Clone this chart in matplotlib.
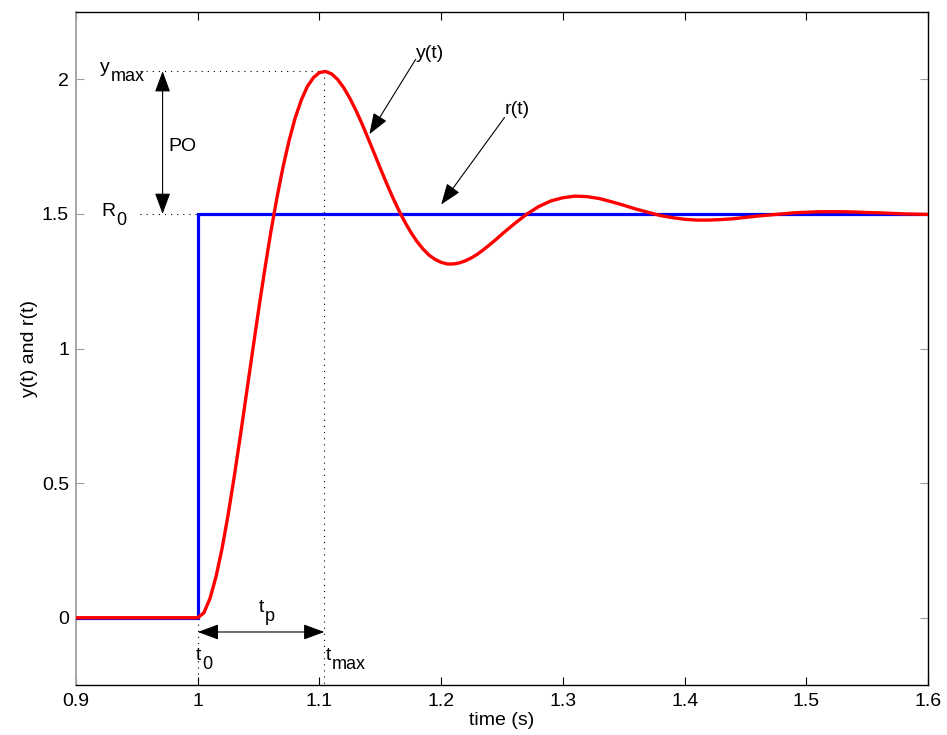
import matplotlib
matplotlib.use("Agg")
import matplotlib.pyplot as plt
from matplotlib.patches import ArrowStyle

# reference input r(t): unit step of height R0 at t0
r_t = [0.9, 1.0, 1.0, 1.6]
r_y = [0.0, 0.0, 1.5, 1.5]

# output y(t)
y_t = [0.9, 1.0, 1.005, 1.01, 1.015, 1.02, 1.025, 1.03, 1.035, 1.04, 1.045,
       1.05, 1.055, 1.06, 1.065, 1.07, 1.075, 1.08, 1.085, 1.09, 1.095,
       1.10, 1.105, 1.11, 1.115, 1.12, 1.125, 1.13, 1.135, 1.14, 1.145,
       1.15, 1.155, 1.16, 1.165, 1.17, 1.175, 1.18, 1.185, 1.19, 1.195,
       1.20, 1.205, 1.21, 1.215, 1.22, 1.225, 1.23, 1.235, 1.24, 1.245,
       1.25, 1.26, 1.27, 1.28, 1.29, 1.30, 1.31, 1.32, 1.33, 1.34,
       1.35, 1.36, 1.37, 1.38, 1.39, 1.40, 1.41, 1.42, 1.43, 1.44,
       1.45, 1.46, 1.47, 1.48, 1.49, 1.50, 1.51, 1.52, 1.53, 1.54,
       1.55, 1.56, 1.57, 1.58, 1.59, 1.60]
y_y = [0.0, 0.0, 0.018, 0.071, 0.152, 0.258, 0.384, 0.525, 0.676, 0.832, 0.989,
       1.144, 1.292, 1.432, 1.559, 1.673, 1.772, 1.856, 1.922, 1.973, 2.006,
       2.025, 2.029, 2.020, 1.999, 1.968, 1.929, 1.884, 1.834, 1.780, 1.725,
       1.669, 1.615, 1.563, 1.515, 1.471, 1.432, 1.398, 1.370, 1.347, 1.331,
       1.320, 1.314, 1.314, 1.318, 1.326, 1.337, 1.351, 1.368, 1.386, 1.405,
       1.425, 1.463, 1.498, 1.527, 1.548, 1.560, 1.566, 1.564, 1.557, 1.545,
       1.532, 1.518, 1.506, 1.494, 1.486, 1.480, 1.477, 1.477, 1.479, 1.482,
       1.487, 1.492, 1.496, 1.500, 1.504, 1.506, 1.508, 1.508, 1.508, 1.507,
       1.505, 1.504, 1.502, 1.500, 1.499, 1.498]

# annotated quantities
t0 = 1.0
t_max = 1.104
y_max = 2.03
R0 = 1.5

x_ticks = [0.9, 1.0, 1.1, 1.2, 1.3, 1.4, 1.5, 1.6]
x_tick_labels = ["0.9", "1", "1.1", "1.2", "1.3", "1.4", "1.5", "1.6"]
y_ticks = [0, 0.5, 1, 1.5, 2]
y_tick_labels = ["0", "0.5", "1", "1.5", "2"]

FONT = "Liberation Sans"
FS = 14
plt.rcParams["font.family"] = [FONT, "DejaVu Sans"]

fig = plt.figure(figsize=(9.47, 7.35), dpi=100)
ax = fig.add_axes([0.0803, 0.068, 0.8997, 0.9157])

ax.plot(r_t, r_y, color="#0000ff", lw=2.3, solid_joinstyle="miter", zorder=3)
ax.plot(y_t, y_y, color="#ff0000", lw=2.4, zorder=4)

# dotted guide lines
dots = dict(color="k", lw=0.8, linestyle=(0, (1, 4.5)), zorder=2)
ax.plot([0.9525, t_max], [y_max, y_max], **dots)
ax.plot([0.9525, t_max], [R0, R0], **dots)
ax.plot([t_max, t_max], [y_max, -0.25], **dots)
ax.plot([t0, t0], [0, -0.25], **dots)

# arrows
head = ArrowStyle("<|-|>", head_length=0.65, head_width=0.24)
single = ArrowStyle("-|>", head_length=0.65, head_width=0.24)
arr = dict(color="k", lw=0.8, shrinkA=0, shrinkB=0, mutation_scale=20)
ax.annotate("", xy=(0.9711, y_max), xytext=(0.9711, R0),
            arrowprops=dict(arrowstyle=head, **arr), zorder=5)
ax.annotate("", xy=(t_max, -0.053), xytext=(t0, -0.053),
            arrowprops=dict(arrowstyle=head, **arr), zorder=5)
ax.annotate("", xy=(1.141, 1.796), xytext=(1.179, 2.074),
            arrowprops=dict(arrowstyle=single, **arr), zorder=5)
ax.annotate("", xy=(1.200, 1.535), xytext=(1.252, 1.858),
            arrowprops=dict(arrowstyle=single, **arr), zorder=5)


def sub_label(x, y, base, sub, drop=6.5):
    """Text with a subscript in the same size, MATLAB style."""
    b = ax.text(x, y, base, fontsize=FS, ha="left", va="baseline")
    ax.annotate(sub, xy=(1, 0), xycoords=b, xytext=(0.5, -drop),
                textcoords="offset points", fontsize=FS - 1,
                ha="left", va="bottom")


sub_label(0.9197, 2.026, "y", "max")
sub_label(0.9205, 1.492, "R", "0")
sub_label(1.0504, 0.023, "t", "p")
sub_label(0.9984, -0.156, "t", "0")
sub_label(1.1048, -0.156, "t", "max")

ax.text(0.9757, 1.751, "PO", fontsize=FS, ha="left", va="center")
ax.text(1.1795, 2.08, "y(t)", fontsize=FS, ha="left", va="baseline")
ax.text(1.2519, 1.870, "r(t)", fontsize=FS, ha="left", va="baseline")

ax.set_xlim(0.9, 1.6)
ax.set_ylim(-0.25, 2.25)
ax.set_xticks(x_ticks)
ax.set_xticklabels(x_tick_labels)
ax.set_yticks(y_ticks)
ax.set_yticklabels(y_tick_labels)
ax.tick_params(axis="x", direction="in", length=6, width=0.8, top=True,
               labelsize=FS, pad=6, colors="k")
ax.tick_params(axis="y", direction="in", length=6, width=0.8, right=True,
               labelsize=FS, pad=5, color="#a0a0a0", labelcolor="k")
for side in ["top", "right", "bottom"]:
    ax.spines[side].set_linewidth(1.0)
    ax.spines[side].set_color("k")
ax.spines["left"].set_linewidth(1.4)
ax.spines["left"].set_color("#a6a6a6")

ax.set_xlabel("time (s)", fontsize=FS, labelpad=1)
ax.set_ylabel("y(t) and r(t)", fontsize=FS, labelpad=3)

fig.savefig("out.png", dpi=100, facecolor="white")
